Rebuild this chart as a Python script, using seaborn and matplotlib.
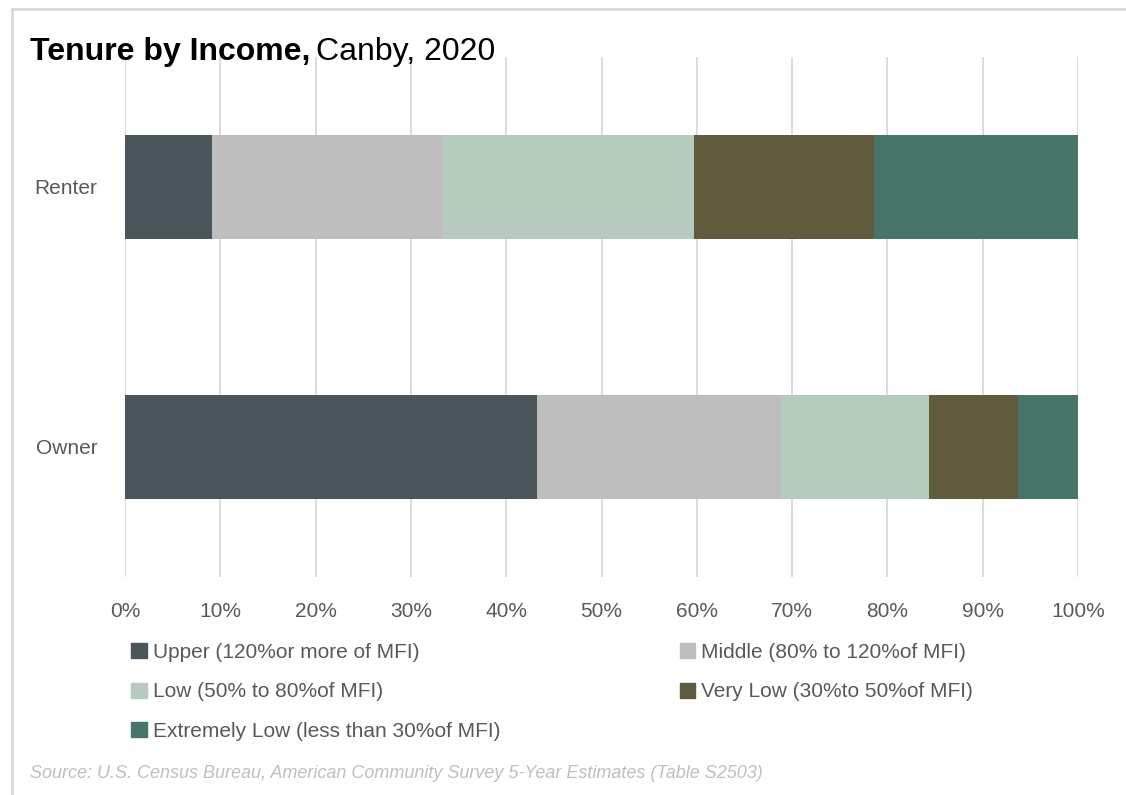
import pandas as pd
import numpy as np
import matplotlib.pyplot as plt
import matplotlib.patches as mpatches
from matplotlib.lines import Line2D
import seaborn as sns

# ==========================================
# DADOS
# ==========================================
tenure = ['Renter', 'Owner']
categorias = [
    'Upper (120%or more of MFI)',
    'Middle (80% to 120%of MFI)',
    'Low (50% to 80%of MFI)',
    'Very Low (30%to 50%of MFI)',
    'Extremely Low (less than 30%of MFI)',
]
upper = [9.1, 43.2]
middle = [24.3, 25.6]
low = [26.3, 15.6]
very_low = [18.9, 9.3]
extremely_low = [21.4, 6.3]

cores = ['#4B565C', '#BEBEBE', '#B7CABE', '#605B3C', '#47756A']

df = pd.DataFrame({
    'Tenure': tenure,
    categorias[0]: upper,
    categorias[1]: middle,
    categorias[2]: low,
    categorias[3]: very_low,
    categorias[4]: extremely_low,
})

# acumulado para empilhar (desenhamos da maior soma para a menor)
acum = df[categorias].cumsum(axis=1)

# ==========================================
# PLOT
# ==========================================
sns.set_theme(style="white")
fonte = ['Liberation Sans Narrow', 'Liberation Sans', 'DejaVu Sans']
plt.rcParams['font.family'] = fonte

fig = plt.figure(figsize=(11.26, 7.95), dpi=100)
ax = fig.add_axes([125 / 1126, 1 - 577 / 795, 953 / 1126, 520 / 795])

for cat, cor in reversed(list(zip(categorias, cores))):
    sns.barplot(x=acum[cat], y=df['Tenure'], orient='h', color=cor,
                width=0.4, saturation=1, ax=ax, zorder=2, linewidth=0)

ax.set_xlim(0, 100)
ax.set_ylim(1.5, -0.5)
ax.set_xticks(np.arange(0, 101, 10))
ax.set_xticklabels([f'{v}%' for v in range(0, 101, 10)])
ax.xaxis.grid(True, color='#D9D9D9', linewidth=1.3, zorder=0)
ax.set_axisbelow(True)
ax.set_xlabel('')
ax.set_ylabel('')
for s in ax.spines.values():
    s.set_visible(False)
ax.tick_params(axis='both', length=0, labelsize=15, labelcolor='#595959')
ax.tick_params(axis='x', pad=18)
ax.tick_params(axis='y', pad=20)

# Título: parte em negrito + parte normal
y_tit = 1 - 52 / 795
t1 = fig.text(30 / 1126, y_tit, 'Tenure by Income,', fontsize=23,
              fontweight='bold', color='black', va='center', ha='left')
fig.canvas.draw()
bb = t1.get_window_extent()
fig.text(bb.x1 / fig.bbox.width + 0.005, y_tit, 'Canby, 2020',
         fontsize=23, color='black', va='center', ha='left')

# Legenda (ordem em colunas para ler por linhas)
ordem = [0, 2, 4, 1, 3]
handles = [mpatches.Patch(color=cores[i], label=categorias[i]) for i in ordem]
leg = fig.legend(handles=handles, ncol=2, loc='upper left',
                 bbox_to_anchor=(131 / 1126, 1 - 643 / 795), frameon=False,
                 fontsize=15, labelcolor='#595959', handlelength=0.75,
                 handleheight=0.75, handletextpad=0.3, columnspacing=8.6,
                 labelspacing=0.98, borderaxespad=0, borderpad=0)

# Fonte
fig.text(30 / 1126, 1 - 773 / 795,
         'Source: U.S. Census Bureau, American Community Survey 5-Year Estimates (Table S2503)',
         fontsize=13, style='italic', color='#BFBFBF', va='center', ha='left')

# Moldura cinza
fig.add_artist(Line2D([12 / 1126, 1], [1 - 9 / 795, 1 - 9 / 795],
                      transform=fig.transFigure, color='#D9D9D9', linewidth=2))
fig.add_artist(Line2D([12 / 1126, 12 / 1126], [0, 1 - 9 / 795],
                      transform=fig.transFigure, color='#D9D9D9', linewidth=2))

fig.savefig('out.png', dpi=100)
